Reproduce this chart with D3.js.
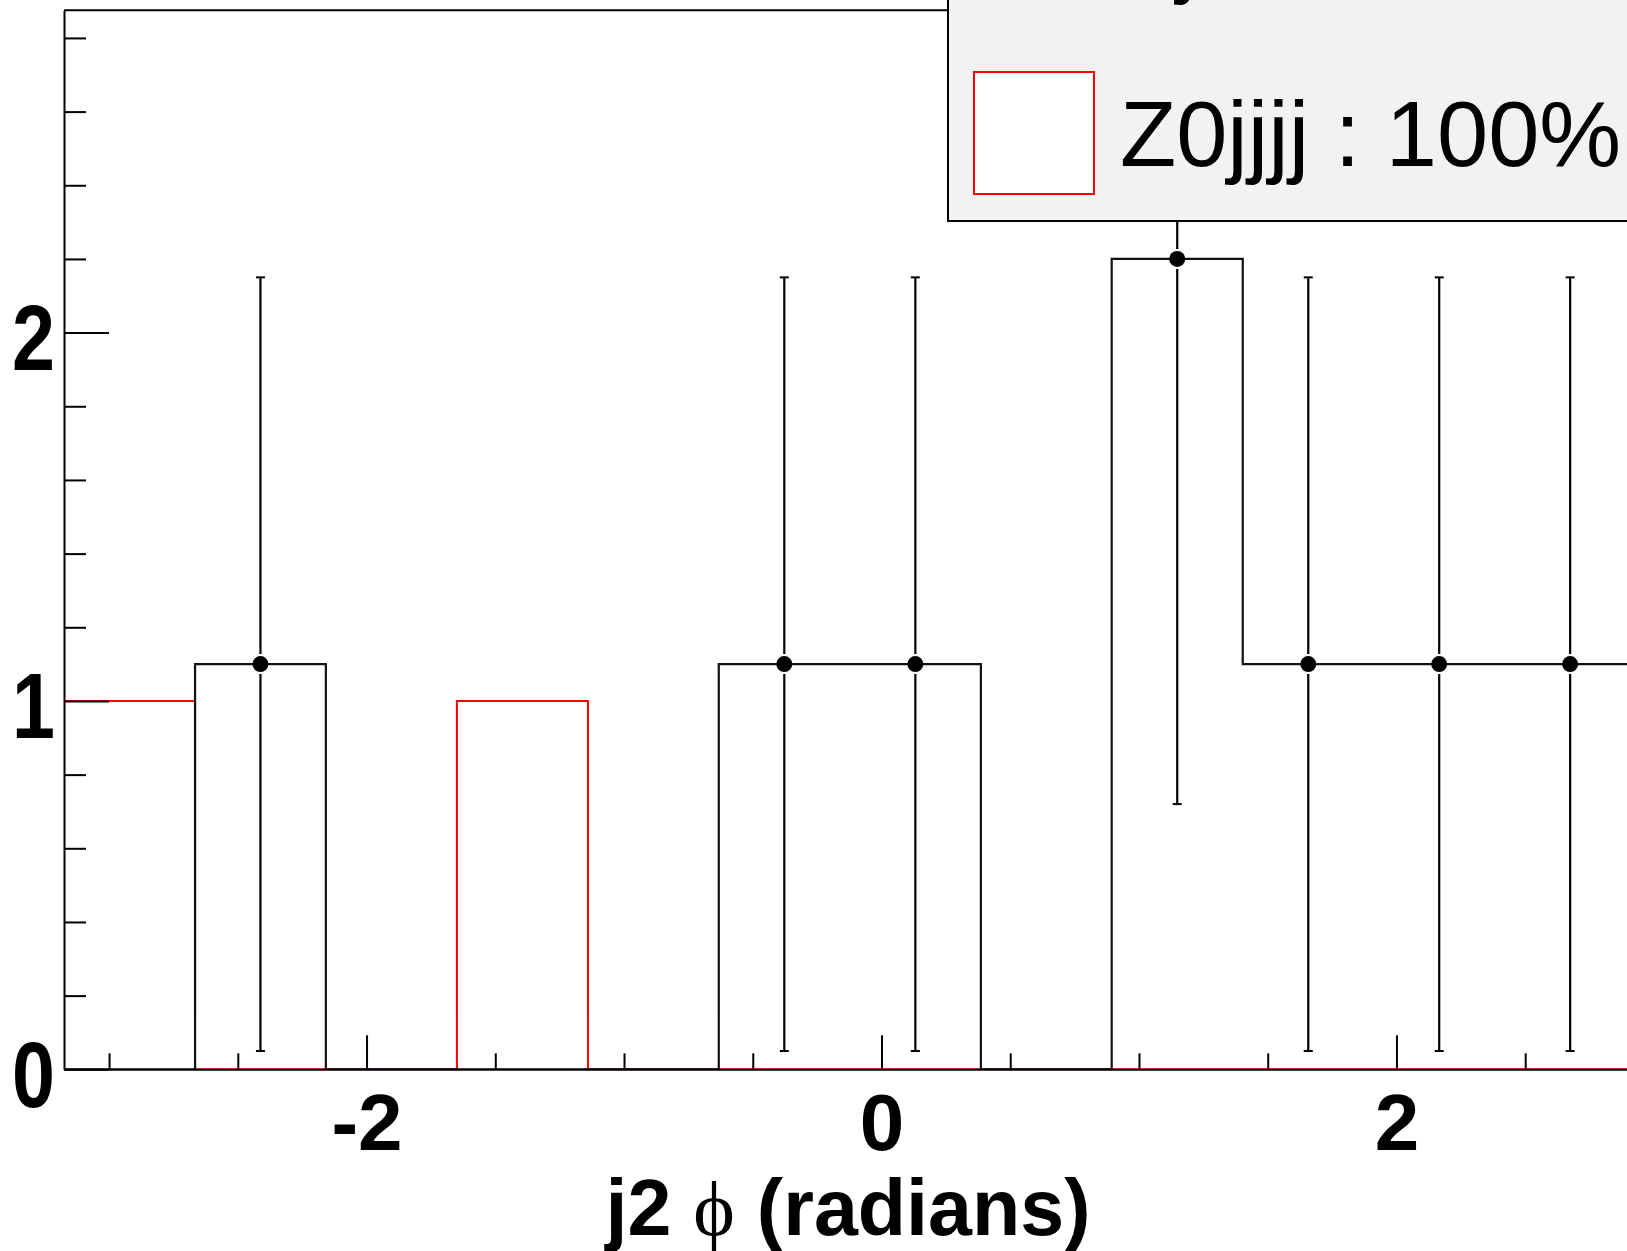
<!DOCTYPE html>
<html>
<head>
<meta charset="utf-8">
<script src="https://cdn.jsdelivr.net/npm/d3@7"></script>
<style>
html,body{margin:0;padding:0;background:#fff;overflow:hidden;}
svg{display:block;}
</style>
</head>
<body>
<svg id="c" width="1627" height="1251"></svg>
<script>
// ---- data ----
const binEdges = [-3.175, -2.666, -2.158, -1.649, -1.140, -0.632, -0.123, 0.386, 0.894, 1.403, 1.912, 2.420, 2.929];
const dataValues = [0, 1.1, 0, 0, 0, 1.1, 1.1, 0, 2.2, 1.1, 1.1, 1.1];
const dataErrors = [0, 1.05, 0, 0, 0, 1.05, 1.05, 0, 1.48, 1.05, 1.05, 1.05];
const z0jjjjValues = [1, 0, 0, 1, 0, 0, 0, 0, 0, 0, 0, 0];
const xMajorTicks = [-2, 0, 2];
const xMinorTicks = [-3, -2.5, -1.5, -1, -0.5, 0.5, 1, 1.5, 2.5, 3];
const yMajorTicks = [0, 1, 2];
const yMinorTicks = [0.2, 0.4, 0.6, 0.8, 1.2, 1.4, 1.6, 1.8, 2.2, 2.4, 2.6, 2.8];
const legendEntries = ["Zj", "Z0jjjj : 100%"];
const xTitle = "j2 \u03D5 (radians)";

// ---- layout ----
const svg = d3.select("#c");
const x0 = 64, x1 = 1699, yB = 1069.3, yT = 10.3;
const x = d3.scaleLinear().domain([-3.175, 3.175]).range([x0, x1]);
const y = d3.scaleLinear().domain([0, 2.875]).range([yB, yT]);

svg.append("defs").append("clipPath").attr("id","frame")
  .append("rect").attr("x", x0).attr("y", yT).attr("width", x1 - x0).attr("height", yB - yT);

const plot = svg.append("g").attr("clip-path","url(#frame)");

function stepPath(vals){
  let p = "M" + x(binEdges[0]) + "," + y(0);
  vals.forEach((v,i)=>{
    p += "L" + x(binEdges[i]) + "," + y(v) + "L" + x(binEdges[i+1]) + "," + y(v);
  });
  p += "L" + x(binEdges[binEdges.length-1]) + "," + y(0);
  return p;
}

// red histogram
plot.append("path").attr("d", stepPath(z0jjjjValues))
  .attr("fill","none").attr("stroke","#ff0000").attr("stroke-width",2);
// black histogram
plot.append("path").attr("d", stepPath(dataValues))
  .attr("fill","none").attr("stroke","#111").attr("stroke-width",2.2);

// error bars + markers
const r = 8, gap = 2, cap = 4.5;
dataValues.forEach((v,i)=>{
  if (v <= 0) return;
  const cx = x((binEdges[i] + binEdges[i+1]) / 2);
  const cy = y(v);
  const yHi = y(v + dataErrors[i]);
  const yLo = y(v - dataErrors[i]);
  plot.append("line").attr("x1",cx).attr("x2",cx).attr("y1",yHi).attr("y2",cy - r - gap)
    .attr("stroke","#000").attr("stroke-width",2.2);
  plot.append("line").attr("x1",cx).attr("x2",cx).attr("y1",cy + r + gap).attr("y2",yLo)
    .attr("stroke","#000").attr("stroke-width",2.2);
  plot.append("line").attr("x1",cx-cap).attr("x2",cx+cap).attr("y1",yLo).attr("y2",yLo)
    .attr("stroke","#000").attr("stroke-width",2);
  if (yHi > yT) {
    plot.append("line").attr("x1",cx-cap).attr("x2",cx+cap).attr("y1",yHi).attr("y2",yHi)
      .attr("stroke","#000").attr("stroke-width",2);
  }
  plot.append("circle").attr("cx",cx).attr("cy",cy).attr("r",r).attr("fill","#000");
});

// frame top
svg.append("line").attr("x1",x0).attr("x2",x1).attr("y1",yT).attr("y2",yT)
  .attr("stroke","#000").attr("stroke-width",2);

// axes
const font = "'Liberation Sans', Arial, Helvetica, sans-serif";
const xAxis = svg.append("g").attr("transform","translate(0,"+yB+")")
  .call(d3.axisBottom(x).tickValues(xMajorTicks).tickSize(-34).tickSizeOuter(0).tickPadding(24)
    .tickFormat(d3.format("d")));
const xMinor = svg.append("g").attr("transform","translate(0,"+yB+")")
  .call(d3.axisBottom(x).tickValues(xMinorTicks).tickSize(-16).tickSizeOuter(0).tickFormat(""));
const yAxis = svg.append("g").attr("transform","translate("+x0+",0)")
  .call(d3.axisLeft(y).tickValues(yMajorTicks).tickSize(-45).tickSizeOuter(0).tickPadding(9)
    .tickFormat(d3.format("d")));
const yMinor = svg.append("g").attr("transform","translate("+x0+",0)")
  .call(d3.axisLeft(y).tickValues(yMinorTicks).tickSize(-22).tickSizeOuter(0).tickFormat(""));

[xAxis,xMinor,yAxis,yMinor].forEach(g=>{
  g.selectAll("path,line").attr("stroke","#000").attr("stroke-width",2);
  g.selectAll("text").attr("fill","#000").style("font-family",font)
    .style("font-size","80px").style("font-weight","bold");
});
yAxis.selectAll("text").style("font-size","92px").attr("dy","0.4em")
  .attr("transform","translate(-9,0) scale(0.84,1) translate(9,0)");
xMinor.select(".domain").remove();
yMinor.select(".domain").remove();
xAxis.selectAll("text").text(d => d < 0 ? "-" + Math.abs(d) : d);

// x title
const t = svg.append("text").attr("x", 848).attr("y", 1235).attr("text-anchor","middle")
  .style("font-family",font).style("font-size","79px").style("font-weight","bold").attr("fill","#000");
const parts = xTitle.split("\u03D5");
t.append("tspan").text(parts[0]);
t.append("tspan").text("\u03D5").style("font-family","'Liberation Serif','DejaVu Serif',serif")
  .style("font-weight","normal");
t.append("tspan").text(parts[1]);

// legend
const lg = svg.append("g");
lg.append("rect").attr("x",948).attr("y",-20).attr("width",720).attr("height",241)
  .attr("fill","#f2f2f2").attr("stroke","#000").attr("stroke-width",2);
lg.append("text").attr("x",1120).attr("y",-14).text(legendEntries[0])
  .style("font-family",font).style("font-size","92px").attr("fill","#000");
lg.append("rect").attr("x",974).attr("y",72).attr("width",120).attr("height",122)
  .attr("fill","#fff").attr("stroke","#ff0000").attr("stroke-width",2);
lg.append("text").attr("x",1120).attr("y",166).text(legendEntries[1])
  .style("font-family",font).style("font-size","92px").attr("fill","#000");
</script>
</body>
</html>
